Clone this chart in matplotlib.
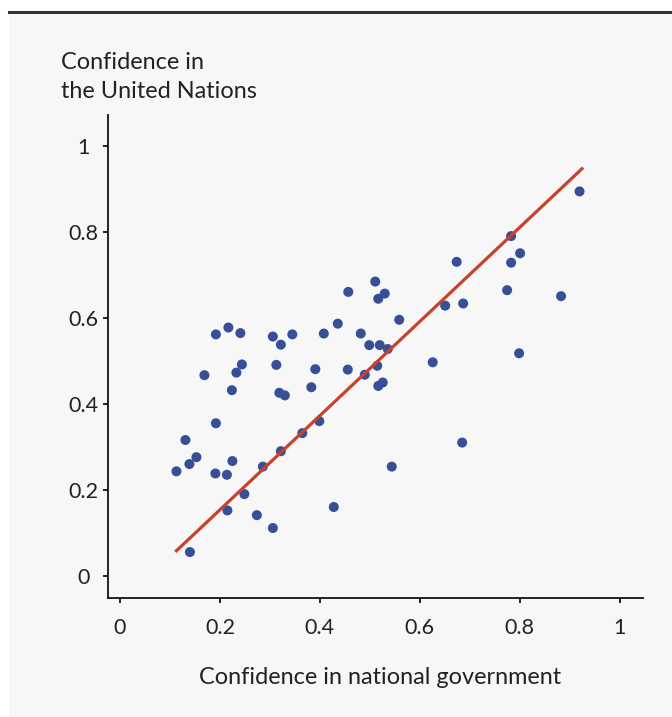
import matplotlib
matplotlib.use('Agg')
import matplotlib.pyplot as plt
from matplotlib.patches import Rectangle
from matplotlib.lines import Line2D

# Confidence in national government (x) vs the United Nations (y)
gov_conf = [0.920, 0.783, 0.801, 0.783, 0.674, 0.775, 0.883, 0.687, 0.651, 0.799,
            0.626, 0.685, 0.544, 0.511, 0.530, 0.517, 0.457, 0.559, 0.436, 0.482,
            0.408, 0.499, 0.520, 0.536, 0.391, 0.456, 0.490, 0.515, 0.383, 0.517,
            0.526, 0.399, 0.365, 0.428, 0.345, 0.192, 0.217, 0.241, 0.306, 0.322,
            0.244, 0.233, 0.169, 0.313, 0.224, 0.319, 0.330, 0.192, 0.131, 0.153,
            0.139, 0.113, 0.225, 0.191, 0.214, 0.322, 0.286, 0.249, 0.215, 0.274,
            0.306, 0.140]
un_conf = [0.895, 0.791, 0.751, 0.729, 0.731, 0.665, 0.651, 0.634, 0.629, 0.518,
           0.497, 0.310, 0.254, 0.685, 0.657, 0.645, 0.661, 0.596, 0.587, 0.564,
           0.564, 0.537, 0.537, 0.528, 0.481, 0.480, 0.468, 0.489, 0.439, 0.442,
           0.450, 0.360, 0.332, 0.160, 0.562, 0.562, 0.578, 0.565, 0.557, 0.538,
           0.492, 0.473, 0.467, 0.491, 0.432, 0.426, 0.420, 0.355, 0.316, 0.276,
           0.260, 0.243, 0.267, 0.238, 0.235, 0.290, 0.254, 0.190, 0.152, 0.141,
           0.111, 0.055]

# fitted trend line endpoints
trend_x = [0.113, 0.925]
trend_y = [0.058, 0.948]

x_ticks = [0, 0.2, 0.4, 0.6, 0.8, 1]
y_ticks = [0, 0.2, 0.4, 0.6, 0.8, 1]
tick_labels = ['0', '0.2', '0.4', '0.6', '0.8', '1']

plt.rcParams['font.family'] = ['Lato', 'DejaVu Sans']

W, H = 672, 717
fig = plt.figure(figsize=(W / 100, H / 100), dpi=100)
fig.patch.set_facecolor('white')

# panel background and top rule
fig.patches.append(Rectangle((9 / W, 0), 1 - 9 / W, 1 - 13 / H, transform=fig.transFigure,
                             facecolor='#f7f7f7', edgecolor='none', zorder=-5))
fig.lines.append(Line2D([9 / W, 1], [1 - 12 / H, 1 - 12 / H], transform=fig.transFigure,
                        color='#333333', linewidth=2.2, zorder=-4))

ax = fig.add_axes([108 / W, 1 - 598 / H, (643 - 108) / W, (598 - 115) / H])
ax.set_facecolor('none')
ax.set_zorder(2)

ax.scatter(gov_conf, un_conf, s=52, color='#374f96', edgecolors='none', zorder=3)
ax.plot(trend_x, trend_y, color='#c8412c', linewidth=2.3, zorder=4)

ax.set_xlim(-0.024, 1.047)
ax.set_ylim(-0.052, 1.073)
ax.set_xticks(x_ticks)
ax.set_xticklabels(tick_labels)
ax.set_yticks(y_ticks)
ax.set_yticklabels(tick_labels)

for side in ['top', 'right']:
    ax.spines[side].set_visible(False)
for side in ['left', 'bottom']:
    ax.spines[side].set_linewidth(1.3)
    ax.spines[side].set_color('#111111')

ax.tick_params(axis='both', length=3.6, width=1.3, color='#111111',
               labelsize=15.5, labelcolor='#222222')
ax.tick_params(axis='x', pad=11)
ax.tick_params(axis='y', pad=14)
for lab in ax.get_yticklabels():
    lab.set_ha('center')

fig.text(61 / W, 1 - 52 / H, 'Confidence in\nthe United Nations', ha='left', va='top',
         fontsize=16.9, color='#222222', linespacing=1.5)
fig.text(380 / W, 1 - 677 / H, 'Confidence in national government', ha='center',
         va='center', fontsize=16.9, color='#222222')

fig.savefig('out.png', dpi=100)
